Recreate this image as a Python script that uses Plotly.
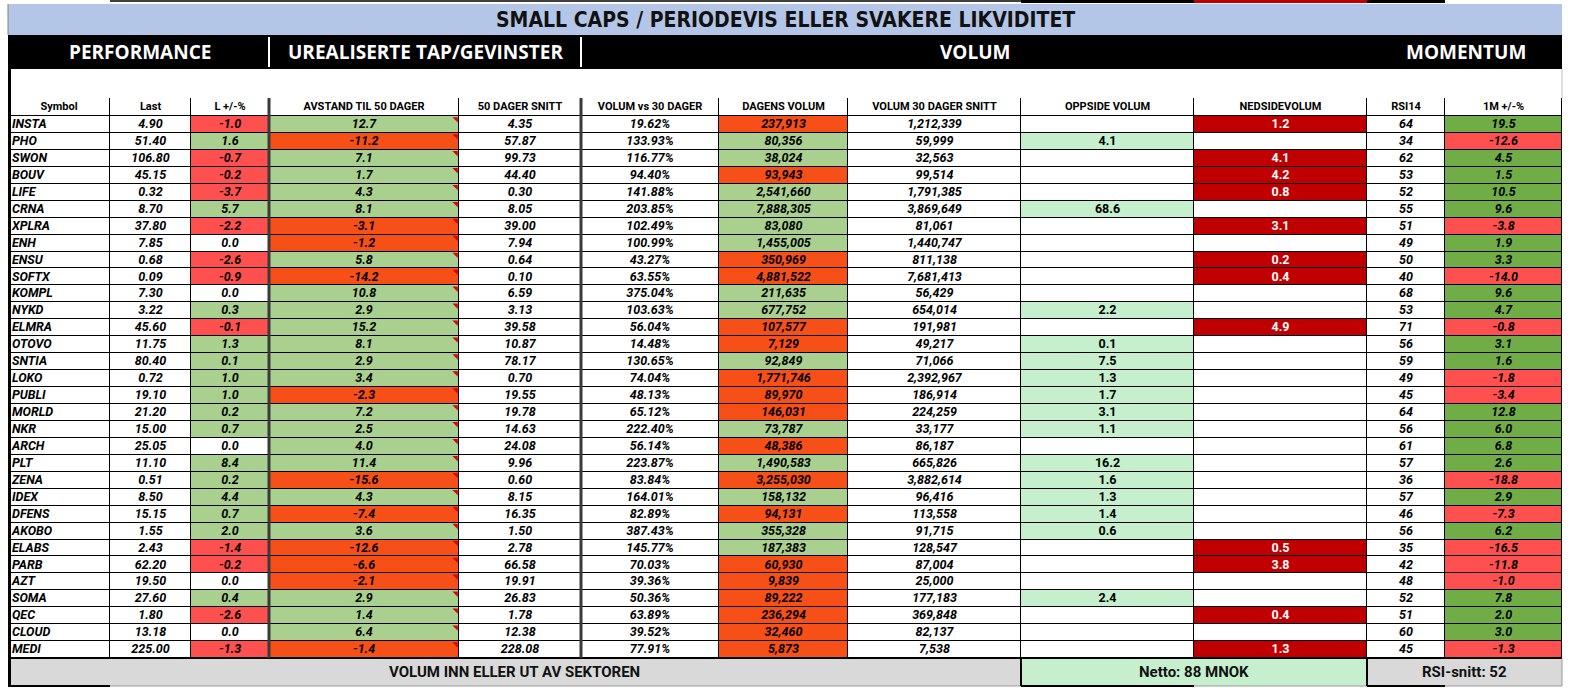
import plotly.graph_objects as go

symbols = ["INSTA", "PHO", "SWON", "BOUV", "LIFE", "CRNA", "XPLRA", "ENH", "ENSU", "SOFTX",
           "KOMPL", "NYKD", "ELMRA", "OTOVO", "SNTIA", "LOKO", "PUBLI", "MORLD", "NKR", "ARCH",
           "PLT", "ZENA", "IDEX", "DFENS", "AKOBO", "ELABS", "PARB", "AZT", "SOMA", "QEC",
           "CLOUD", "MEDI"]
last = [4.90, 51.40, 106.80, 45.15, 0.32, 8.70, 37.80, 7.85, 0.68, 0.09,
        7.30, 3.22, 45.60, 11.75, 80.40, 0.72, 19.10, 21.20, 15.00, 25.05,
        11.10, 0.51, 8.50, 15.15, 1.55, 2.43, 62.20, 19.50, 27.60, 1.80,
        13.18, 225.00]
chg = [-1.0, 1.6, -0.7, -0.2, -3.7, 5.7, -2.2, 0.0, -2.6, -0.9,
       0.0, 0.3, -0.1, 1.3, 0.1, 1.0, 1.0, 0.2, 0.7, 0.0,
       8.4, 0.2, 4.4, 0.7, 2.0, -1.4, -0.2, 0.0, 0.4, -2.6,
       0.0, -1.3]
avstand = [12.7, -11.2, 7.1, 1.7, 4.3, 8.1, -3.1, -1.2, 5.8, -14.2,
           10.8, 2.9, 15.2, 8.1, 2.9, 3.4, -2.3, 7.2, 2.5, 4.0,
           11.4, -15.6, 4.3, -7.4, 3.6, -12.6, -6.6, -2.1, 2.9, 1.4,
           6.4, -1.4]
snitt50 = [4.35, 57.87, 99.73, 44.40, 0.30, 8.05, 39.00, 7.94, 0.64, 0.10,
           6.59, 3.13, 39.58, 10.87, 78.17, 0.70, 19.55, 19.78, 14.63, 24.08,
           9.96, 0.60, 8.15, 16.35, 1.50, 2.78, 66.58, 19.91, 26.83, 1.78,
           12.38, 228.08]
vol_ratio = [19.62, 133.93, 116.77, 94.40, 141.88, 203.85, 102.49, 100.99, 43.27, 63.55,
             375.04, 103.63, 56.04, 14.48, 130.65, 74.04, 48.13, 65.12, 222.40, 56.14,
             223.87, 83.84, 164.01, 82.89, 387.43, 145.77, 70.03, 39.36, 50.36, 63.89,
             39.52, 77.91]
vol_today = [237913, 80356, 38024, 93943, 2541660, 7888305, 83080, 1455005, 350969, 4881522,
             211635, 677752, 107577, 7129, 92849, 1771746, 89970, 146031, 73787, 48386,
             1490583, 3255030, 158132, 94131, 355328, 187383, 60930, 9839, 89222, 236294,
             32460, 5873]
vol_avg30 = [1212339, 59999, 32563, 99514, 1791385, 3869649, 81061, 1440747, 811138, 7681413,
             56429, 654014, 191981, 49217, 71066, 2392967, 186914, 224259, 33177, 86187,
             665826, 3882614, 96416, 113558, 91715, 128547, 87004, 25000, 177183, 369848,
             82137, 7538]
opp_vol = [None, 4.1, None, None, None, 68.6, None, None, None, None,
           None, 2.2, None, 0.1, 7.5, 1.3, 1.7, 3.1, 1.1, None,
           16.2, 1.6, 1.3, 1.4, 0.6, None, None, None, 2.4, None,
           None, None]
ned_vol = [1.2, None, 4.1, 4.2, 0.8, None, 3.1, None, 0.2, 0.4,
           None, None, 4.9, None, None, None, None, None, None, None,
           None, None, None, None, None, 0.5, 3.8, None, None, 0.4,
           None, 1.3]
rsi14 = [64, 34, 62, 53, 52, 55, 51, 49, 50, 40,
         68, 53, 71, 56, 59, 49, 45, 64, 56, 61,
         57, 36, 57, 46, 56, 35, 42, 48, 52, 51,
         60, 45]
m1 = [19.5, -12.6, 4.5, 1.5, 10.5, 9.6, -3.8, 1.9, 3.3, -14.0,
      9.6, 4.7, -0.8, 3.1, 1.6, -1.8, -3.4, 12.8, 6.0, 6.8,
      2.6, -18.8, 2.9, -7.3, 6.2, -16.5, -11.8, -1.0, 7.8, 2.0,
      3.0, -1.3]

headers = ["Symbol", "Last", "L +/-%", "AVSTAND TIL 50 DAGER", "50 DAGER SNITT",
           "VOLUM vs 30 DAGER", "DAGENS VOLUM", "VOLUM 30 DAGER SNITT", "OPPSIDE VOLUM",
           "NEDSIDEVOLUM", "RSI14", "1M +/-%"]
sections = ["PERFORMANCE", "UREALISERTE TAP/GEVINSTER", "VOLUM", "MOMENTUM"]
title = "SMALL CAPS / PERIODEVIS ELLER SVAKERE LIKVIDITET"
footer_label = "VOLUM INN ELLER UT AV SEKTOREN"

# Layout geometry (pixels)
W, H = 1572, 691
col_edges = [8, 110, 191, 269, 459, 581, 719, 848, 1021, 1194, 1367, 1445, 1562]
left, right = col_edges[0], col_edges[-1]
header_top, first_row, row_h = 98, 116, 16.94
n = len(symbols)
y_edges = [header_top] + [first_row + i * row_h for i in range(n + 1)]
table_bottom = y_edges[-1]
footer_bottom = 686
centers = [(a + b) / 2 for a, b in zip(col_edges[:-1], col_edges[1:])]
row_y = [first_row + (i + 0.5) * row_h for i in range(n)]

FONT = "Roboto, sans-serif"
TITLE_FONT = "DejaVu Sans Condensed, Roboto, sans-serif"
palette = ["#ffffff", "#a9d08e", "#ff5050", "#f74f18", "#c6efce", "#c00000", "#70ad47"]
colorscale = []
for i, c in enumerate(palette):
    colorscale += [[i / len(palette), c], [(i + 1) / len(palette), c]]


def sign_code(v, pos, neg):
    return pos if v > 0 else (neg if v < 0 else 0)


z = [[0] * 12]
for i in range(n):
    z.append([0, 0, sign_code(chg[i], 1, 2), 1 if avstand[i] > 0 else 3, 0, 0,
              1 if vol_ratio[i] >= 100 else 3, 0,
              4 if opp_vol[i] is not None else 0, 5 if ned_vol[i] is not None else 0,
              0, sign_code(m1[i], 6, 2)])

fig = go.Figure()
fig.add_trace(go.Heatmap(x=col_edges, y=y_edges, z=z, colorscale=colorscale,
                         zmin=-0.5, zmax=len(palette) - 0.5, xgap=1, ygap=1,
                         showscale=False, hoverinfo="skip"))

fmt1 = lambda v: "" if v is None else f"{v:.1f}"
columns = [
    (symbols, "black", "italic"),
    ([f"{v:.2f}" for v in last], "black", "italic"),
    ([fmt1(v) for v in chg], "black", "italic"),
    ([fmt1(v) for v in avstand], "black", "italic"),
    ([f"{v:.2f}" for v in snitt50], "black", "italic"),
    ([f"{v:.2f}%" for v in vol_ratio], "black", "italic"),
    ([f"{v:,}" for v in vol_today], "black", "italic"),
    ([f"{v:,}" for v in vol_avg30], "black", "italic"),
    ([fmt1(v) for v in opp_vol], "black", "normal"),
    ([fmt1(v) for v in ned_vol], "white", "normal"),
    ([str(v) for v in rsi14], "black", "italic"),
    ([fmt1(v) for v in m1], "black", "italic"),
]
for j, (texts, color, style) in enumerate(columns):
    x = col_edges[0] + 4 if j == 0 else centers[j]
    fig.add_trace(go.Scatter(
        x=[x] * n, y=[v + 0.5 for v in row_y], text=texts, mode="text",
        textposition="middle right" if j == 0 else "middle center",
        textfont=dict(family=FONT, size=12.5, color=color, weight="bold", style=style),
        hoverinfo="skip"))

fig.add_trace(go.Scatter(
    x=centers, y=[(header_top + first_row) / 2] * 12, text=headers, mode="text",
    textfont=dict(family=FONT, size=11, color="black", weight="bold"), hoverinfo="skip"))

# comment markers in the AVSTAND column
fig.add_trace(go.Scatter(
    x=[col_edges[4] - 3] * n, y=[first_row + i * row_h + 3 for i in range(n)],
    mode="markers", marker=dict(symbol="triangle-ne", size=6, color="#e00000", line_width=0),
    hoverinfo="skip"))

shapes = [
    dict(type="rect", x0=left, x1=right, y0=header_top, y1=table_bottom,
         fillcolor="black", line_width=0, layer="below"),
    # strip of the sheet above
    dict(type="line", x0=col_edges[1], x1=col_edges[8], y0=1, y1=1, line=dict(color="black", width=1.5)),
    dict(type="rect", x0=col_edges[8], x1=col_edges[9], y0=0, y1=3, fillcolor="black", line_width=0),
    dict(type="rect", x0=col_edges[9], x1=col_edges[10], y0=0, y1=3, fillcolor="#c00000", line_width=0),
    dict(type="rect", x0=col_edges[10], x1=col_edges[11], y0=0, y1=3, fillcolor="black", line_width=0),
    dict(type="rect", x0=left, x1=right, y0=4, y1=35, fillcolor="#b4c6e7", line_width=0),
    dict(type="rect", x0=left, x1=right, y0=35, y1=69, fillcolor="black", line_width=0),
    dict(type="line", x0=right, x1=right, y0=69, y1=header_top, line=dict(color="#bfbfbf", width=1)),
    dict(type="rect", x0=left, x1=col_edges[8], y0=table_bottom, y1=footer_bottom,
         fillcolor="#d9d9d9", line_width=0),
    dict(type="rect", x0=col_edges[8], x1=col_edges[10], y0=table_bottom, y1=footer_bottom,
         fillcolor="#c6efce", line_width=0),
    dict(type="rect", x0=col_edges[10], x1=right, y0=table_bottom, y1=footer_bottom,
         fillcolor="#d9d9d9", line_width=0),
    dict(type="line", x0=left, x1=right, y0=table_bottom, y1=table_bottom,
         line=dict(color="black", width=2)),
    dict(type="line", x0=left, x1=col_edges[1], y0=footer_bottom, y1=footer_bottom,
         line=dict(color="black", width=2)),
    dict(type="line", x0=col_edges[1], x1=right, y0=footer_bottom, y1=footer_bottom,
         line=dict(color="#999999", width=1)),
    dict(type="line", x0=col_edges[8], x1=col_edges[9], y0=footer_bottom, y1=footer_bottom,
         line=dict(color="black", width=2)),
    dict(type="line", x0=col_edges[10], x1=col_edges[11], y0=footer_bottom, y1=footer_bottom,
         line=dict(color="black", width=2)),
    dict(type="line", x0=col_edges[8], x1=col_edges[8], y0=table_bottom, y1=footer_bottom,
         line=dict(color="black", width=2)),
    dict(type="line", x0=col_edges[10], x1=col_edges[10], y0=table_bottom, y1=footer_bottom,
         line=dict(color="black", width=2)),
    dict(type="line", x0=right, x1=right, y0=table_bottom, y1=footer_bottom,
         line=dict(color="#999999", width=1)),
    dict(type="line", x0=left + 1.5, x1=left + 1.5, y0=35, y1=footer_bottom,
         line=dict(color="black", width=3)),
    dict(type="line", x0=left, x1=left, y0=4, y1=35, line=dict(color="#808080", width=1)),
]
for xe in (col_edges[3], col_edges[5]):
    shapes.append(dict(type="line", x0=xe, x1=xe, y0=header_top, y1=table_bottom,
                       line=dict(color="#3a3a3a", width=3)))
    shapes.append(dict(type="line", x0=xe, x1=xe, y0=37, y1=67,
                       line=dict(color="white", width=2)))

section_x = [140, 425, 975, 1466]
annotations = [dict(x=(left + right) / 2, y=20, text=title, showarrow=False,
                    font=dict(family=TITLE_FONT, size=21, color="#111111", weight="bold"))]
for sx, s in zip(section_x, sections):
    annotations.append(dict(x=sx, y=52, text=s, showarrow=False,
                            font=dict(family="Open Sans", size=19, color="white", weight="bold")))
footer_y = (table_bottom + footer_bottom) / 2
netto = round(sum(v for v in opp_vol if v is not None) - sum(v for v in ned_vol if v is not None))
rsi_avg = round(sum(rsi14) / len(rsi14))
footer_items = [
    ((left + col_edges[8]) / 2, footer_label),
    ((col_edges[8] + col_edges[10]) / 2, f"Netto: {netto} MNOK"),
    ((col_edges[10] + right) / 2, f"RSI-snitt: {rsi_avg}"),
]
for fx, ft in footer_items:
    annotations.append(dict(x=fx, y=footer_y, text=ft, showarrow=False,
                            font=dict(family=FONT, size=15, color="#111111", weight="bold")))

fig.update_layout(
    width=W, height=H, margin=dict(l=0, r=0, t=0, b=0),
    plot_bgcolor="white", paper_bgcolor="white", showlegend=False,
    xaxis=dict(range=[0, W], visible=False, fixedrange=True),
    yaxis=dict(range=[H, 0], visible=False, fixedrange=True),
    shapes=shapes, annotations=annotations,
)

fig.write_html("out.html", config={"displayModeBar": False},
               post_script="document.body.style.margin='0';")
